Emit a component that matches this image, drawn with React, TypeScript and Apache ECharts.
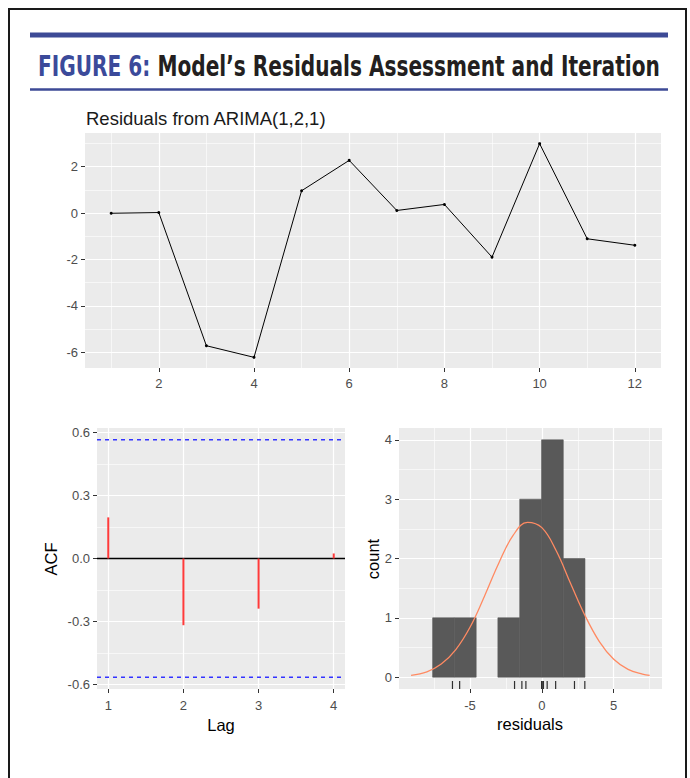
import React, { useEffect, useRef } from "react";
import * as echarts from "echarts";

// ---------- data ----------
const timeIndex = [1, 2, 3, 4, 5, 6, 7, 8, 9, 10, 11, 12];
const residuals = [-0.01, 0.02, -5.72, -6.22, 0.96, 2.27, 0.11, 0.37, -1.9, 2.99, -1.11, -1.39];
const topXTicks = [2, 4, 6, 8, 10, 12];
const topXMinor = [1, 3, 5, 7, 9, 11];
const topYTicks = [-6, -4, -2, 0, 2];
const topYMinor = [-5, -3, -1, 1, 3];

const acfLags = [1, 2, 3, 4];
const acfValues = [0.196, -0.318, -0.239, 0.024];
const acfCI = 0.566;
const acfXTicks = [1, 2, 3, 4];
const acfYTicks = [-0.6, -0.3, 0, 0.3, 0.6];
const acfYMinor = [-0.45, -0.15, 0.15, 0.45];

const binEdges = [-7.6, -6.09, -4.57, -3.06, -1.54, -0.02, 1.49, 3.0];
const binCounts = [1, 1, 0, 1, 3, 4, 2];
const normalX = [-9.1, -8, -7, -6, -5, -4, -3, -2, -1, 0, 1, 2, 3, 4, 5, 6, 7, 7.5];
const normalY = [0.03, 0.09, 0.22, 0.46, 0.84, 1.36, 1.92, 2.39, 2.61, 2.52, 2.13, 1.58, 1.04, 0.6, 0.3, 0.13, 0.05, 0.03];
const histXTicks = [-5, 0, 5];
const histXMinor = [-7.5, -2.5, 2.5, 7.5];
const histYTicks = [0, 1, 2, 3, 4];
const histYMinor = [0.5, 1.5, 2.5, 3.5];

// axis ranges (ggplot expanded limits)
const topXRange = [0.45, 12.55];
const topYRange = [-6.68, 3.45];
const acfXRange = [0.85, 4.15];
const acfYRange = [-0.622, 0.622];
const histXRange = [-9.94, 8.36];
const histYRange = [-0.2, 4.2];

const FONT = "'Liberation Sans', Arial, Helvetica, sans-serif";
const TITLE_FONT = "'Liberation Sans Narrow', 'DejaVu Sans Condensed', 'Arial Narrow', 'Liberation Sans', sans-serif";

function axesFor(
  gridIndex: number,
  xr: number[], yr: number[],
  xMaj: number[], xMin: number[], yMaj: number[], yMin: number[],
  yFmt: (v: number) => string,
  xMargin: number
) {
  const majorLine = { show: true, lineStyle: { color: "#ffffff", width: 1.2 } };
  const minorLine = { show: true, lineStyle: { color: "#ffffff", width: 0.6 } };
  const noLine = { show: false, onZero: false };
  const tick = (vals: number[]) => ({ show: true, customValues: vals, length: 4, lineStyle: { color: "#333333", width: 1 } });
  const xAxes = [
    {
      type: "value", gridIndex, min: xr[0], max: xr[1], position: "bottom",
      axisLine: noLine, axisTick: tick(xMaj),
      axisLabel: { show: true, customValues: xMaj, color: "#4d4d4d", fontSize: 13, fontFamily: FONT, margin: xMargin },
      splitLine: majorLine,
    },
    {
      type: "value", gridIndex, min: xr[0], max: xr[1], position: "top",
      axisLine: noLine, axisTick: { show: false, customValues: xMin.length ? xMin : [xr[0] - 10] },
      axisLabel: { show: false }, splitLine: xMin.length ? minorLine : { show: false },
    },
  ];
  const yAxes = [
    {
      type: "value", gridIndex, min: yr[0], max: yr[1], position: "left",
      axisLine: noLine, axisTick: tick(yMaj),
      axisLabel: { show: true, customValues: yMaj, color: "#4d4d4d", fontSize: 13, fontFamily: FONT, margin: 7, formatter: yFmt },
      splitLine: majorLine,
    },
    {
      type: "value", gridIndex, min: yr[0], max: yr[1], position: "right",
      axisLine: noLine, axisTick: { show: false, customValues: yMin },
      axisLabel: { show: false }, splitLine: minorLine,
    },
  ];
  return { xAxes, yAxes };
}

function measure(text: string, font: string) {
  const c = document.createElement("canvas").getContext("2d");
  if (!c) return text.length * 12;
  c.font = font;
  return c.measureText(text).width;
}

export default function App() {
  const ref = useRef<HTMLDivElement>(null);
  useEffect(() => {
    if (!ref.current) return;
    const chart = echarts.init(ref.current, undefined, { renderer: "svg" });

    const a0 = axesFor(0, topXRange, topYRange, topXTicks, topXMinor, topYTicks, topYMinor, (v) => String(v), 9);
    const a1 = axesFor(1, acfXRange, acfYRange, acfXTicks, [], acfYTicks, acfYMinor, (v) => v.toFixed(1), 10);
    const a2 = axesFor(2, histXRange, histYRange, histXTicks, histXMinor, histYTicks, histYMinor, (v) => String(v), 10);

    // title sizing
    const tSize = 28;
    const tFont = `bold ${tSize}px ${TITLE_FONT}`;
    const part1 = "FIGURE 6: ";
    const part2 = "Model\u2019s Residuals Assessment and Iteration";
    const w1 = measure(part1, tFont);
    const w2 = measure(part2, tFont);
    const targetW = 622;
    const sx = targetW / (w1 + w2);

    const gridBase = { show: true, backgroundColor: "#ebebeb", borderWidth: 0, containLabel: false };

    const option: any = {
      animation: false,
      backgroundColor: "#ffffff",
      grid: [
        { ...gridBase, left: 85, top: 133, width: 576, height: 235 },
        { ...gridBase, left: 97, top: 428, width: 248, height: 261 },
        { ...gridBase, left: 399, top: 428, width: 263, height: 261 },
      ],
      xAxis: [...a0.xAxes, ...a1.xAxes, ...a2.xAxes],
      yAxis: [...a0.yAxes, ...a1.yAxes, ...a2.yAxes],
      series: [
        {
          type: "line", xAxisIndex: 0, yAxisIndex: 0,
          data: timeIndex.map((t, i) => [t, residuals[i]]),
          symbol: "circle", symbolSize: 3, showSymbol: true,
          itemStyle: { color: "#000000" }, lineStyle: { color: "#000000", width: 1 },
          z: 3,
        },
        {
          type: "line", xAxisIndex: 2, yAxisIndex: 2,
          data: [[acfXRange[0], 0], [acfXRange[1], 0]],
          symbol: "none", lineStyle: { color: "#000000", width: 1.3 }, z: 3,
        },
        {
          type: "custom", xAxisIndex: 2, yAxisIndex: 2,
          data: acfLags.map((l, i) => [l, acfValues[i]]),
          renderItem: (params: any, api: any) => {
            const p0 = api.coord([api.value(0), 0]);
            const p1 = api.coord([api.value(0), api.value(1)]);
            return { type: "line", shape: { x1: p0[0], y1: p0[1], x2: p1[0], y2: p1[1] }, style: { stroke: "#ff3a3a", lineWidth: 2 } };
          },
          z: 4,
        },
        {
          type: "line", xAxisIndex: 2, yAxisIndex: 2,
          data: [[acfXRange[0], acfCI], [acfXRange[1], acfCI]],
          symbol: "none", lineStyle: { color: "#3333ff", width: 1.3, type: [4, 4] }, z: 4,
        },
        {
          type: "line", xAxisIndex: 2, yAxisIndex: 2,
          data: [[acfXRange[0], -acfCI], [acfXRange[1], -acfCI]],
          symbol: "none", lineStyle: { color: "#3333ff", width: 1.3, type: [4, 4] }, z: 4,
        },
        {
          type: "custom", xAxisIndex: 4, yAxisIndex: 4,
          data: binCounts.map((c, i) => [binEdges[i], binEdges[i + 1], c]),
          renderItem: (params: any, api: any) => {
            const c = api.value(2);
            if (!c) return null;
            const p0 = api.coord([api.value(0), 0]);
            const p1 = api.coord([api.value(1), c]);
            return { type: "rect", shape: { x: p0[0], y: p1[1], width: p1[0] - p0[0], height: p0[1] - p1[1] }, style: { fill: "#595959", stroke: "#595959", lineWidth: 0.6 } };
          },
          z: 3,
        },
        {
          type: "line", xAxisIndex: 4, yAxisIndex: 4,
          data: normalX.map((x, i) => [x, normalY[i]]),
          smooth: 0.4, symbol: "none", lineStyle: { color: "#ff8a62", width: 1.3 }, z: 4,
        },
        {
          type: "scatter", xAxisIndex: 4, yAxisIndex: 4, clip: false,
          data: residuals.map((r) => [r, histYRange[0]]),
          symbol: "rect", symbolSize: [1.2, 8], symbolOffset: [0, -4],
          itemStyle: { color: "#000000" }, z: 5,
        },
      ],
      graphic: [
        { type: "rect", shape: { x: 9, y: 9, width: 677, height: 820 }, style: { fill: "none", stroke: "#1a1a1a", lineWidth: 2 }, z: 10 },
        { type: "rect", shape: { x: 30, y: 32.5, width: 638, height: 5 }, style: { fill: "#3d4a96" } },
        { type: "rect", shape: { x: 30, y: 88.3, width: 638, height: 2.5 }, style: { fill: "#3d4a96" } },
        { type: "text", x: 38, y: 66, scaleX: sx, style: { text: part1, font: tFont, fill: "#3b4a9a", align: "left", verticalAlign: "middle" } },
        { type: "text", x: 38 + w1 * sx, y: 66, scaleX: sx, style: { text: part2, font: tFont, fill: "#231f20", align: "left", verticalAlign: "middle" } },
        { type: "text", x: 86, y: 118, style: { text: "Residuals from ARIMA(1,2,1)", font: `18.5px ${FONT}`, fill: "#1a1a1a", align: "left", verticalAlign: "middle" } },
        { type: "text", x: 51, y: 559, rotation: Math.PI / 2, style: { text: "ACF", font: `16.5px ${FONT}`, fill: "#000000", align: "center", verticalAlign: "middle" } },
        { type: "text", x: 221, y: 725, style: { text: "Lag", font: `16.5px ${FONT}`, fill: "#000000", align: "center", verticalAlign: "middle" } },
        { type: "text", x: 373, y: 559, rotation: Math.PI / 2, style: { text: "count", font: `16.5px ${FONT}`, fill: "#000000", align: "center", verticalAlign: "middle" } },
        { type: "text", x: 530, y: 724, style: { text: "residuals", font: `16.5px ${FONT}`, fill: "#000000", align: "center", verticalAlign: "middle" } },
      ],
    };
    chart.setOption(option);
    return () => chart.dispose();
  }, []);
  return <div ref={ref} style={{ position: "fixed", left: 0, top: 0, width: 690, height: 778 }} />;
}
